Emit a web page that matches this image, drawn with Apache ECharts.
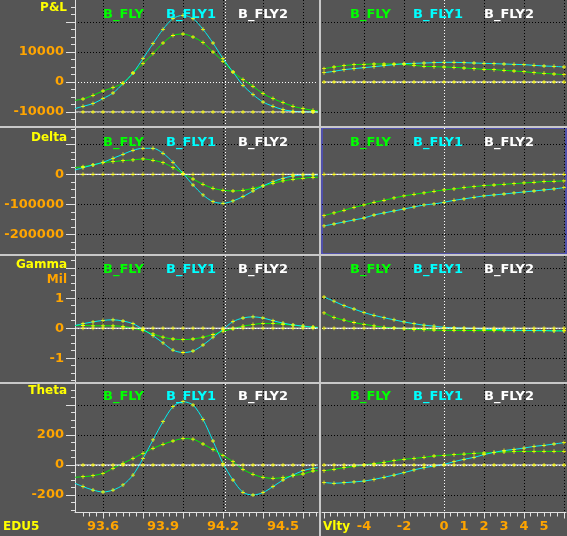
<!DOCTYPE html>
<html>
<head>
<meta charset="utf-8">
<script src="https://cdn.jsdelivr.net/npm/echarts@6/dist/echarts.min.js"></script>
<style>
  html, body { margin: 0; padding: 0; background: #555555; }
  #chart { width: 567px; height: 536px; }
</style>
</head>
<body>
<div id="chart"></div>
<script>
// x values: underlying price (left column) and vol shift (right column)
const priceX = [93.46, 93.5, 93.55, 93.6, 93.65, 93.7, 93.75, 93.8, 93.85, 93.9, 93.95, 94.0, 94.05,
  94.1, 94.15, 94.2, 94.25, 94.3, 94.35, 94.4, 94.45, 94.5, 94.55, 94.6, 94.65, 94.675];
const volX = [-6, -5.5, -5, -4.5, -4, -3.5, -3, -2.5, -2, -1.5, -1, -0.5, 0,
  0.5, 1, 1.5, 2, 2.5, 3, 3.5, 4, 4.5, 5, 5.5, 6];

// P&L
const pnlPriceFly = [-6100, -5670, -4430, -3000, -1870, -330, 3000, 6130, 9470, 13000, 15500, 16000, 15000,
  13130, 10000, 6900, 3330, 800, -1430, -3870, -5530, -6870, -8100, -8870, -9430, -9670];
const pnlPriceFly1 = [-8870, -8100, -7200, -5530, -3670, -530, 3000, 7800, 12800, 17570, 21130, 22230, 21130,
  17570, 13000, 7800, 3330, -1100, -4200, -6670, -8100, -9200, -9770, -9950, -10000, -10000];
const pnlPriceFly2 = [-10000, -10000, -10000, -10000, -10000, -10000, -10000, -10000, -10000, -10000, -10000, -10000, -10000,
  -10000, -10000, -10000, -10000, -10000, -10000, -10000, -10000, -10000, -10000, -10000, -10000, -10000];
const pnlVolFly = [4450, 5000, 5450, 5780, 5890, 6000, 6000, 6000, 5890, 5560, 5220, 5110, 5000,
  4890, 4670, 4450, 4220, 4110, 3890, 3670, 3450, 3110, 2890, 2670, 2450];
const pnlVolFly1 = [3110, 3560, 4110, 4450, 4780, 5110, 5450, 5780, 6110, 6220, 6330, 6450, 6560,
  6560, 6450, 6330, 6220, 6110, 6000, 5890, 5780, 5560, 5330, 5220, 5000];
const pnlVolFly2 = [0, 0, 0, 0, 0, 0, 0, 0, 0, 0, 0, 0, 0, 0, 0, 0, 0, 0, 0, 0, 0, 0, 0, 0, 0];

// Delta
const deltaPriceFly = [22200, 25500, 31100, 38900, 42200, 45500, 47800, 51100, 46700, 38900, 22200, 3300, -15600,
  -33300, -46700, -53300, -55600, -53300, -46700, -38900, -30000, -22200, -16700, -13300, -10000, -10000];
const deltaPriceFly1 = [14400, 22200, 31100, 40000, 53300, 66700, 80000, 86700, 86700, 70000, 40000, 3300, -35600,
  -68900, -91100, -96700, -88900, -74400, -55600, -38900, -24400, -13300, -5600, -2200, -2200, -2200];
const deltaPriceFly2 = [0, 0, 0, 0, 0, 0, 0, 0, 0, 0, 0, 0, 0, 0, 0, 0, 0, 0, 0, 0, 0, 0, 0, 0, 0, 0];
const deltaVolFly = [-137800, -128900, -120000, -110000, -102200, -93300, -86700, -78900, -72200, -66700, -62200, -56700, -52200,
  -48900, -44400, -41100, -37800, -35600, -33300, -31100, -28900, -26700, -24400, -23300, -22200];
const deltaVolFly1 = [-172200, -165600, -158900, -152200, -145600, -135600, -128900, -122200, -115600, -108900, -102200, -98900, -93300,
  -86700, -82200, -76700, -72200, -68900, -65600, -62200, -58900, -55600, -52200, -48900, -44400];
const deltaVolFly2 = [0, 0, 0, 0, 0, 0, 0, 0, 0, 0, 0, 0, 0, 0, 0, 0, 0, 0, 0, 0, 0, 0, 0, 0, 0];

// Gamma (Mil)
const gammaPriceFly = [0.09, 0.09, 0.08, 0.08, 0.08, 0.06, 0, -0.08, -0.19, -0.30, -0.36, -0.38, -0.36,
  -0.30, -0.21, -0.10, -0.02, 0.07, 0.12, 0.16, 0.16, 0.13, 0.10, 0.07, 0.04, 0.03];
const gammaPriceFly1 = [0.09, 0.15, 0.21, 0.26, 0.28, 0.24, 0.15, -0.04, -0.25, -0.49, -0.73, -0.81, -0.76,
  -0.56, -0.30, -0.04, 0.22, 0.34, 0.38, 0.34, 0.25, 0.17, 0.11, 0.07, 0.03, 0.02];
const gammaPriceFly2 = [0, 0, 0, 0, 0, 0, 0, 0, 0, 0, 0, 0, 0, 0, 0, 0, 0, 0, 0, 0, 0, 0, 0, 0, 0, 0];
const gammaVolFly = [0.51, 0.36, 0.27, 0.19, 0.13, 0.08, 0.03, 0.01, -0.02, -0.04, -0.05, -0.06, -0.07,
  -0.07, -0.07, -0.08, -0.08, -0.08, -0.08, -0.08, -0.08, -0.08, -0.08, -0.08, -0.08];
const gammaVolFly1 = [1.04, 0.90, 0.75, 0.64, 0.52, 0.43, 0.35, 0.28, 0.21, 0.15, 0.10, 0.07, 0.03,
  0.01, 0, -0.01, -0.03, -0.04, -0.06, -0.07, -0.07, -0.08, -0.08, -0.09, -0.09];
const gammaVolFly2 = [0, 0, 0, 0, 0, 0, 0, 0, 0, 0, 0, 0, 0, 0, 0, 0, 0, 0, 0, 0, 0, 0, 0, 0, 0];

// Theta
const thetaPriceFly = [-82, -78, -71, -56, -22, 11, 44, 78, 111, 138, 160, 176, 172,
  140, 104, 64, 22, -29, -62, -82, -89, -84, -71, -60, -40, -38];
const thetaPriceFly1 = [-122, -144, -167, -180, -167, -133, -67, 44, 167, 289, 389, 422, 400,
  304, 160, 11, -100, -182, -200, -184, -144, -100, -67, -38, -22, -18];
const thetaPriceFly2 = [0, 0, 0, 0, 0, 0, 0, 0, 0, 0, 0, 0, 0, 0, 0, 0, 0, 0, 0, 0, 0, 0, 0, 0, 0, 0];
const thetaVolFly = [-38, -29, -18, -9, 0, 9, 18, 29, 38, 44, 51, 60, 64,
  69, 73, 78, 80, 84, 87, 89, 91, 91, 91, 91, 91];
const thetaVolFly1 = [-116, -122, -118, -113, -107, -96, -82, -67, -51, -33, -18, -7, 4,
  22, 38, 51, 69, 84, 96, 104, 113, 124, 131, 140, 149];
const thetaVolFly2 = [0, 0, 0, 0, 0, 0, 0, 0, 0, 0, 0, 0, 0, 0, 0, 0, 0, 0, 0, 0, 0, 0, 0, 0, 0];

// axis ticks / labels
const priceGrid = [93.6, 93.8, 94.0, 94.2, 94.21, 94.4, 94.6];
const priceMajor = [93.6, 93.8, 94.0, 94.2, 94.4, 94.6];
const priceLabels = [93.6, 93.9, 94.2, 94.5];
const volGrid = [-4, -2, 0, 2, 4, 6];
const volMajor = [-6, -4, -2, 0, 2, 4, 6];
const volLabels = [-4, -2, 0, 1, 2, 3, 4, 5];

const pnlTicks = [-10000, 0, 10000, 20000], pnlLabels = [-10000, 0, 10000];
const deltaTicks = [-200000, -100000, 0, 100000], deltaLabels = [-200000, -100000, 0];
const gammaTicks = [-1, 0, 1, 2], gammaLabels = [-1, 0, 1];
const thetaTicks = [-200, 0, 200, 400], thetaLabels = [-200, 0, 200];

const seriesNames = ["B_FLY", "B_FLY1", "B_FLY2"];

const rows = [
  { title: "P&L", ticks: pnlTicks, labels: pnlLabels, step: 2500,
    price: [pnlPriceFly, pnlPriceFly1, pnlPriceFly2], vol: [pnlVolFly, pnlVolFly1, pnlVolFly2] },
  { title: "Delta", ticks: deltaTicks, labels: deltaLabels, step: 25000,
    price: [deltaPriceFly, deltaPriceFly1, deltaPriceFly2], vol: [deltaVolFly, deltaVolFly1, deltaVolFly2] },
  { title: "Gamma", ticks: gammaTicks, labels: gammaLabels, step: 0.25,
    price: [gammaPriceFly, gammaPriceFly1, gammaPriceFly2], vol: [gammaVolFly, gammaVolFly1, gammaVolFly2] },
  { title: "Theta", ticks: thetaTicks, labels: thetaLabels, step: 50,
    price: [thetaPriceFly, thetaPriceFly1, thetaPriceFly2], vol: [thetaVolFly, thetaVolFly1, thetaVolFly2] },
];

// layout (pixels) and value range of each row
const rowLayout = [
  { top: 0, height: 126, min: -14667, max: 27333, titleY: 8, legendY: 15 },
  { top: 128, height: 126, min: -265667, max: 154333, titleY: 137.5, legendY: 143 },
  { top: 256, height: 126, min: -1.793, max: 2.407, titleY: 264.5, legendY: 270 },
  { top: 384, height: 128.5, min: -316.7, max: 540, titleY: 391, legendY: 397 },
];
const colLayout = [
  { left: 75, width: 243, min: 93.46, max: 94.675, legendX: [103, 166, 238] },
  { left: 322, width: 244, min: -6.1, max: 6.1, legendX: [350, 413, 484] },
];

const BG = "#555555";
const AXIS = "#e0e0e0";
const ORANGE = "#ffa500";
const YELLOW = "#ffff00";
const BLUE = "#4d4dff";
const lineColors = ["#00ee00", "#00f0f0", "#ffffff"];
const textColors = ["#00ff00", "#00ffff", "#ffffff"];
const FONT = "DejaVu Sans";
const DOT = [1, 2];
const PLUS = "path://M2,0h1v2h2v1h-2v2h-1v-2h-2v-1h2z";

function minorValues(min, max, step, major) {
  const out = [];
  for (let v = Math.ceil(min / step) * step; v <= max + 1e-9; v += step) {
    const r = Math.round(v * 1e6) / 1e6;
    if (!major.some((m) => Math.abs(m - r) < 1e-6)) out.push(r);
  }
  return out;
}
const priceMinor = minorValues(93.4667, 94.67, 1 / 30, priceMajor);
const volMinor = minorValues(-6, 6, 1 / 3, volMajor);

const grids = [], xAxes = [], yAxes = [], series = [];
const labelFont = { fontFamily: FONT, fontWeight: "bold", fontSize: 13 };

rows.forEach((row, r) => {
  const L = rowLayout[r];
  [0, 1].forEach((c) => {
    const C = colLayout[c];
    const gi = grids.length;
    // the selected panel (Delta vs vol) has a blue frame
    const selected = r === 1 && c === 1;
    grids.push({ left: C.left, top: L.top, width: C.width, height: L.height,
      show: selected, borderColor: BLUE, borderWidth: 1, backgroundColor: "transparent" });

    const gridVals = c === 0 ? priceGrid : volGrid;
    const xi = xAxes.length;
    xAxes.push({
      gridIndex: gi, type: "value", min: C.min, max: C.max, position: "bottom",
      axisLine: { show: false, onZero: false },
      axisTick: { show: false, customValues: gridVals },
      axisLabel: { show: false },
      splitLine: { show: true, lineStyle: { width: 1, type: DOT,
        color: gridVals.map((v) => (v === 94.21 || v === 0 ? "#ffffff" : "#000000")) } },
    });
    if (r === 3) {
      xAxes.push({
        gridIndex: gi, type: "value", min: C.min, max: C.max, position: "bottom",
        axisLine: { show: true, onZero: false, lineStyle: { color: AXIS, width: 1 } },
        axisTick: { show: true, customValues: c === 0 ? priceMajor : volMajor, length: 6, lineStyle: { color: AXIS } },
        axisLabel: { show: true, customValues: c === 0 ? priceLabels : volLabels, margin: 8, color: ORANGE,
          formatter: (v) => (c === 0 ? Number(v).toFixed(1) : String(v)), ...labelFont },
        splitLine: { show: false },
      });
      xAxes.push({
        gridIndex: gi, type: "value", min: C.min, max: C.max, position: "bottom",
        axisLine: { show: false, onZero: false },
        axisTick: { show: true, customValues: c === 0 ? priceMinor : volMinor, length: 4, lineStyle: { color: AXIS } },
        axisLabel: { show: false },
        splitLine: { show: false },
      });
    }

    const yi = yAxes.length;
    yAxes.push({
      gridIndex: gi, type: "value", min: L.min, max: L.max, position: "left",
      axisLine: { show: c === 0, onZero: false, lineStyle: { color: AXIS, width: 1 } },
      axisTick: { show: c === 0, customValues: row.ticks, length: 9, lineStyle: { color: AXIS } },
      axisLabel: { show: c === 0, customValues: row.labels, margin: 11, color: ORANGE,
        formatter: (v) => String(v), ...labelFont },
      splitLine: { show: true, lineStyle: { width: 1, type: DOT,
        color: row.ticks.map((v) => (v === 0 ? "#ffffff" : "#000000")) } },
    });
    if (c === 0) {
      yAxes.push({
        gridIndex: gi, type: "value", min: L.min, max: L.max, position: "left",
        axisLine: { show: false, onZero: false },
        axisTick: { show: true, customValues: minorValues(L.min, L.max, row.step, row.ticks), length: 4,
          lineStyle: { color: AXIS } },
        axisLabel: { show: false },
        splitLine: { show: false },
      });
    }

    const xs = c === 0 ? priceX : volX;
    const sets = c === 0 ? row.price : row.vol;
    sets.forEach((ys, s) => {
      const n = xs.length;
      series.push({
        name: seriesNames[s], type: "line", xAxisIndex: xi, yAxisIndex: yi,
        data: xs.map((x, i) => [x, ys[i]]),
        smooth: 0.3,
        symbol: (val, p) => (c === 0 && (p.dataIndex === 0 || p.dataIndex === n - 1) ? "none" : PLUS),
        symbolSize: 4,
        showSymbol: true,
        itemStyle: { color: YELLOW, borderWidth: 0 },
        lineStyle: { color: lineColors[s], width: 1 },
        emphasis: { disabled: true },
        z: 3 + s,
      });
    });
  });
});

const graphics = [];
function text(str, x, y, color, align, size) {
  graphics.push({ type: "text", z: 100, style: { text: str, x: x, y: y, fill: color, align: align,
    verticalAlign: "middle", fontFamily: FONT, fontWeight: "bold", fontSize: size || 13 } });
}
function rect(x, y, w, h, fill) {
  graphics.push({ type: "rect", z: 90, shape: { x: x, y: y, width: w, height: h }, style: { fill: fill } });
}
// panel separators
rect(0, 126, 567, 2, "#c8c8c8");
rect(0, 254, 567, 2, "#c8c8c8");
rect(0, 382, 567, 2, "#c8c8c8");
rect(319, 0, 2, 536, "#c8c8c8");

rows.forEach((row, r) => {
  const L = rowLayout[r];
  text(row.title, 67, L.titleY, YELLOW, "right", 12);
  colLayout.forEach((C) => {
    seriesNames.forEach((nm, s) => text(nm, C.legendX[s], L.legendY, textColors[s], "left"));
  });
});
text("Mil", 67, 279.5, ORANGE, "right", 12);
text("EDU5", 3, 526.5, YELLOW, "left", 12);
text("Vlty", 323, 527, YELLOW, "left", 12);

const myChart = echarts.init(document.getElementById("chart"));
myChart.setOption({
  backgroundColor: BG,
  animation: false,
  textStyle: { fontFamily: FONT },
  grid: grids,
  xAxis: xAxes,
  yAxis: yAxes,
  series: series,
  graphic: { elements: graphics },
});
</script>
</body>
</html>
